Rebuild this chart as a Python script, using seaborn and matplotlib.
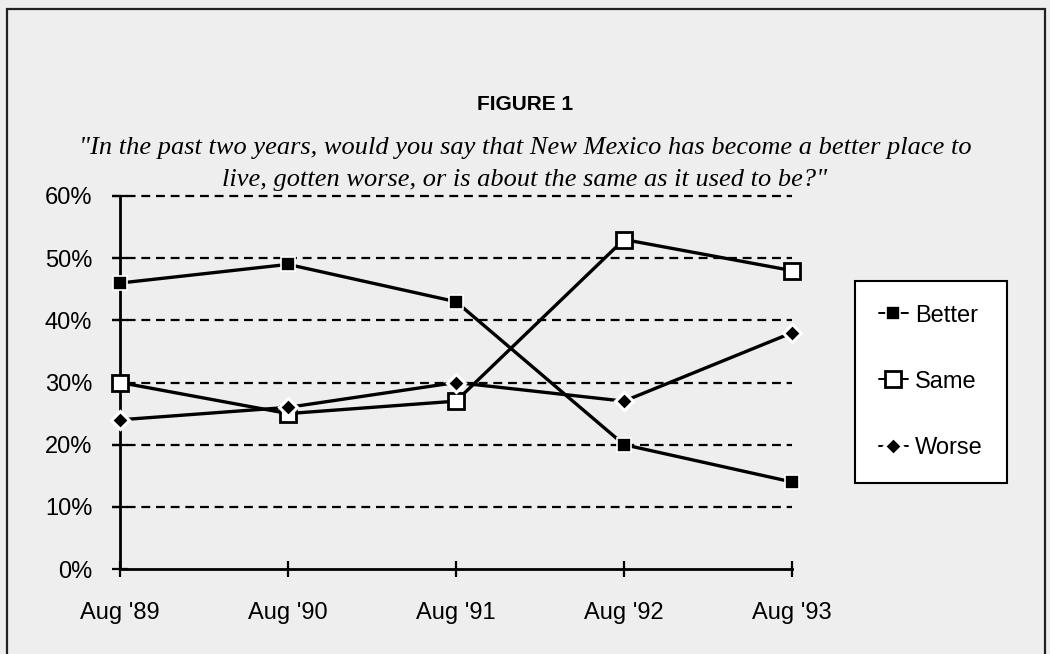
import matplotlib
matplotlib.use("Agg")
import matplotlib.pyplot as plt
from matplotlib.lines import Line2D
from matplotlib.patches import Rectangle
from matplotlib.ticker import PercentFormatter
import seaborn as sns
import pandas as pd

# Survey results (share of respondents)
waves = ["Aug '89", "Aug '90", "Aug '91", "Aug '92", "Aug '93"]
better = [0.46, 0.49, 0.43, 0.20, 0.14]
same = [0.30, 0.25, 0.27, 0.53, 0.48]
worse = [0.24, 0.26, 0.30, 0.27, 0.38]
series_names = ["Better", "Same", "Worse"]

title = "FIGURE 1"
question = ('"In the past two years, would you say that New Mexico has become a better place to\n'
            'live, gotten worse, or is about the same as it used to be?"')

df = pd.DataFrame({
    "wave": waves * 3,
    "share": better + same + worse,
    "answer": [n for n in series_names for _ in waves],
})

sns.set_theme(style="white")
plt.rcParams["font.family"] = ["Liberation Sans", "DejaVu Sans"]
plt.rcParams["text.color"] = "black"

bg = "#eeeeee"
fig = plt.figure(figsize=(10.5, 6.54), dpi=100, facecolor=bg)
ax = fig.add_axes([120 / 1050, 1 - 569 / 654, (792 - 120) / 1050, (569 - 196) / 654])
ax.set_facecolor(bg)

styles = {
    "Better": dict(marker="s", markersize=10, markerfacecolor="black", markeredgecolor="white", markeredgewidth=1.2),
    "Same": dict(marker="s", markersize=11, markerfacecolor="white", markeredgecolor="black", markeredgewidth=2),
    "Worse": dict(marker="D", markersize=9, markerfacecolor="black", markeredgecolor="white", markeredgewidth=2.2),
}

for name in series_names:
    sub = df[df["answer"] == name]
    sns.lineplot(data=sub, x="wave", y="share", ax=ax, color="black", linewidth=2.4,
                 sort=False, legend=False, clip_on=False, zorder=4, **styles[name])

ax.set_xlim(0, len(waves) - 1)
ax.set_ylim(0, 0.6)
ax.set_yticks([0, 0.1, 0.2, 0.3, 0.4, 0.5, 0.6])
ax.yaxis.set_major_formatter(PercentFormatter(1.0, decimals=0))
ax.set_xticks(range(len(waves)))
ax.set_xticklabels(waves)
ax.set_xlabel("")
ax.set_ylabel("")

# dashed gridlines drawn across the plot from the tick marks
for v in [0.1, 0.2, 0.3, 0.4, 0.5, 0.6]:
    ax.axhline(v, xmin=-8 / 672, xmax=1, color="black", linewidth=1.6,
               linestyle=(0, (4, 2.6)), clip_on=False, zorder=1)

for side in ["top", "right"]:
    ax.spines[side].set_visible(False)
for side in ["left", "bottom"]:
    ax.spines[side].set_color("black")
    ax.spines[side].set_linewidth(2)
    ax.spines[side].set_zorder(2)

ax.tick_params(axis="both", which="major", direction="inout", length=12, width=1.6,
               color="black", labelsize=17, labelcolor="black", bottom=True, left=True)
ax.tick_params(axis="y", pad=14)
ax.tick_params(axis="x", pad=17.5)

# legend
handles = [Line2D([0], [0], color="black", linewidth=1.4, **styles[n]) for n in series_names]
leg = fig.legend(handles, series_names, loc="upper left",
                 bbox_to_anchor=(855 / 1050, 1 - 281 / 654), frameon=True, fancybox=False,
                 fontsize=17, handlelength=1.25, handletextpad=0.3, labelspacing=1.87,
                 borderpad=1.0, borderaxespad=0, edgecolor="black", facecolor="white",
                 framealpha=1)
leg.get_frame().set_linewidth(1.5)
for t in leg.get_texts():
    t.set_color("black")

# titles
fig.text(0.5, 1 - 105 / 654, title, ha="center", va="center", fontsize=15, fontweight="bold",
         color="black", family=["Liberation Sans", "DejaVu Sans"])
fig.text(0.5, 1 - 164 / 654, question, ha="center", va="center", fontsize=19,
         style="italic", color="black", family=["Liberation Serif", "DejaVu Serif"],
         linespacing=1.55)

# outer frame
fig.patches.append(Rectangle((7 / 1050, -0.05), (1045 - 7) / 1050, 1.05 - 9 / 654,
                             transform=fig.transFigure, fill=False, edgecolor="#222222",
                             linewidth=1.6))

fig.savefig("out.png", dpi=100, facecolor=bg)
